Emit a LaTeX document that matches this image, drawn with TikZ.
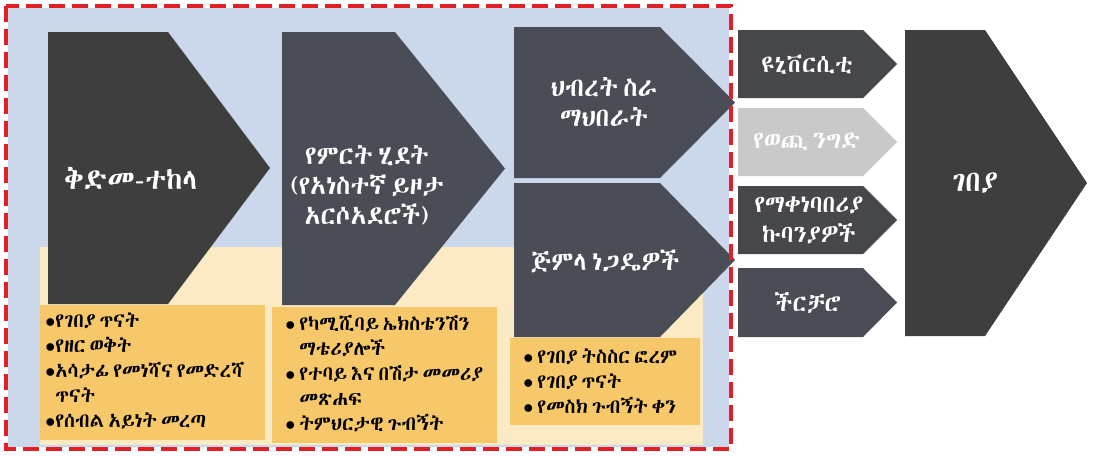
\documentclass[tikz,border=0pt]{standalone}
\usepackage{fontspec}
\IfFontExistsTF{Abyssinica SIL}{\newfontfamily\ethfont[WordSpace=0.45]{Abyssinica SIL}}{%
  \IfFontExistsTF{FreeSerif}{\newfontfamily\ethfont[WordSpace=0.45]{FreeSerif}}{%
    \IfFontExistsTF{Unifont}{\newfontfamily\ethfont{Unifont}}{\newfontfamily\ethfont{DejaVu Sans}}}}
\usetikzlibrary{positioning}
\definecolor{bgblue}{RGB}{203,216,236}
\definecolor{cream}{RGB}{252,234,196}
\definecolor{boxorange}{RGB}{246,200,106}
\definecolor{chevdark}{RGB}{62,62,62}
\definecolor{chevslate}{RGB}{74,77,85}
\definecolor{chevmid}{RGB}{70,71,74}
\definecolor{chevlight}{RGB}{201,201,201}
\definecolor{dashred}{RGB}{224,32,36}
\newcommand\bul{\makebox[5pt][l]{$\bullet$}}
\newcommand\wbul{\makebox[7pt][l]{$\bullet$}}
\newcommand\nobul{\hphantom{\wbul}}
\tikzset{
  chevtext/.style={text=white, align=center, inner sep=0pt, font=\ethfont\fontsize{13}{15}\selectfont},
  bigtext/.style={chevtext, font=\ethfont\fontsize{14.5}{16}\selectfont},
  smalltext/.style={chevtext, font=\ethfont\fontsize{12}{15}\selectfont},
  bulltext/.style={anchor=north west, align=left, inner sep=0pt, font=\ethfont\fontsize{10}{12.5}\selectfont},
  notebox/.style={fill=boxorange},
  redframe/.style={draw=dashred, line width=2.2pt, dash pattern=on 8pt off 3.5pt},
}
\begin{document}
\begin{tikzpicture}[x=0.5pt,y=-0.5pt]
  \useasboundingbox (0,0) rectangle (1096,455);
  % panel behind the first three stages
  \fill[bgblue] (8,8) rectangle (729,447);
  \fill[cream] (40,247) rectangle (703,445);
  \fill[notebox] (40,305) rectangle (265,440);
  \fill[notebox] (272,307) rectangle (497,443);
  \fill[notebox] (510,338) rectangle (700,425);
  % chevrons: left, top, shoulder, tip, bottom, colour
  \foreach \xa/\ya/\xb/\xc/\yb/\col in {48/32/168/270/304/chevdark, 282/32/395/505/305/chevslate,
      514/27/660/735/178/chevslate, 514/183/660/735/337/chevslate,
      738/30/863/897/98/chevmid, 738/108/863/897/176/chevlight,
      738/186/863/897/254/chevmid, 738/268/863/897/337/chevslate,
      905/30/985/1087/336/chevdark}
    \fill[\col] (\xa,\ya) -- (\xb,\ya) -- (\xc,{(\ya+\yb)/2}) -- (\xb,\yb) -- (\xa,\yb) -- cycle;
  % stage labels
  \node[bigtext] (pre) at (131,178) {ቅድመ-ተከላ};
  \node[chevtext] (prod) at (367,185) {የምርት ሂደት\\(የአነስተኛ ይዞታ\\አርሶአደሮች)};
  \node[chevtext] (coop) at (604,102) {ህብረት ስራ\\ማህበራት};
  \node[chevtext] (whole) at (605,261) {ጅምላ ነጋዴዎች};
  \node[smalltext] (univ) at (807,65) {ዩኒቨርሲቲ};
  \node[smalltext] (export) at (807,142) {የወጪ ንግድ};
  \node[smalltext] (proc) at (809,220) {የማቀነባበሪያ\\ኩባንያዎች};
  \node[smalltext] (retail) at (808,303) {ችርቻሮ};
  \node[bigtext] (market) at (975,183) {ገበያ};
  % activities under each stage
  \node[bulltext] (preact) at (45,312) {\bul የገበያ ጥናት\\\bul የዘር ወቅት\\\bul አሳታፊ የመነሻና የመድረሻ\\\hphantom{\bul}ጥናት\\\bul የሰብል አይነት መረጣ};
  \node[bulltext] (prodact) at (285,315) {\wbul የካሚሺባይ ኤክስቴንሽን\\\nobul ማቴሪያሎች\\\wbul የተባይ እና በሽታ መመሪያ\\\nobul መጽሐፍ\\\wbul ትምህርታዊ ጉብኝት};
  \node[bulltext] (coopact) at (523,348) {\wbul የገበያ ትስስር ፎረም\\\wbul የገበያ ጥናት\\\wbul የመስክ ጉብኝት ቀን};
  \draw[redframe] (6,6) rectangle (731,449);
\end{tikzpicture}
\end{document}
